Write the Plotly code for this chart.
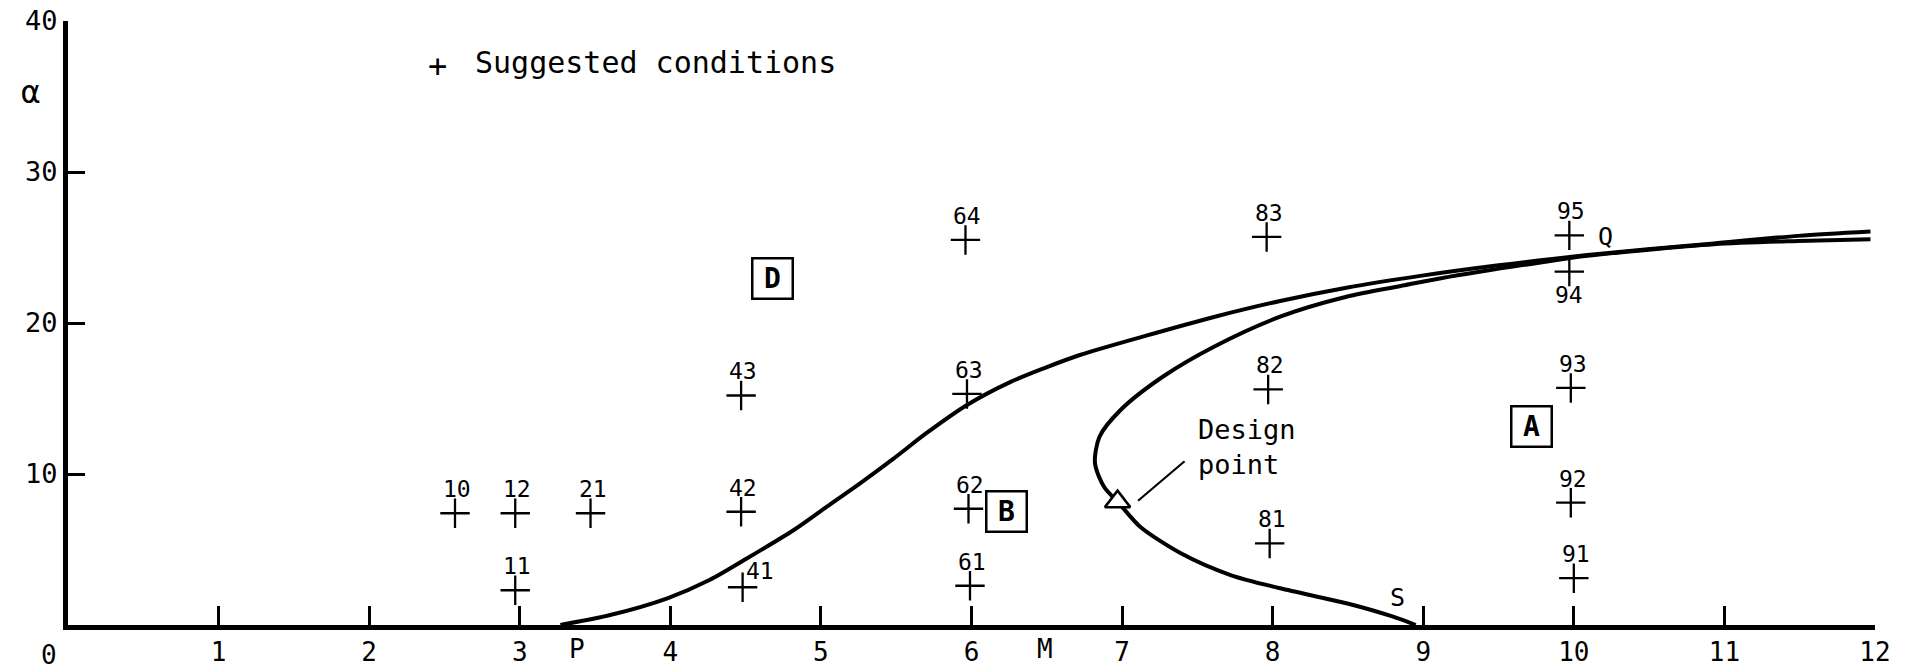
import plotly.graph_objects as go

# Suggested test conditions: run number, M and alpha
run_ids = ["10", "11", "12", "21", "41", "42", "43", "61", "62", "63", "64",
           "81", "82", "83", "91", "92", "93", "94", "95"]
run_m = [2.57, 2.97, 2.97, 3.47, 4.48, 4.47, 4.47, 5.99, 5.98, 5.97, 5.96,
         7.98, 7.97, 7.96, 10.00, 9.98, 9.98, 9.97, 9.97]
run_alpha = [7.4, 2.3, 7.4, 7.4, 2.5, 7.5, 15.2, 2.6, 7.7, 15.3, 25.5,
             5.4, 15.6, 25.7, 3.1, 8.1, 15.7, 23.4, 25.8]

# Boundary from P up to Q
pq_m = [3.27, 3.60, 3.98, 4.26, 4.49, 4.82, 5.04, 5.26, 5.48, 5.70, 5.97,
        6.26, 6.48, 6.72, 7.16, 7.61, 8.05, 8.49, 8.98, 9.50, 10.09, 10.93,
        11.49, 11.97]
pq_alpha = [0.0, 0.66, 1.77, 2.98, 4.30, 6.29, 7.84, 9.38, 11.00, 12.70, 14.57,
            16.10, 17.00, 17.88, 19.16, 20.40, 21.46, 22.34, 23.12, 23.82, 24.50, 25.27,
            25.77, 26.06]

# Boundary from Q round the nose down to S
qs_m = [11.97, 11.49, 10.93, 10.09, 9.81, 9.11, 8.85, 8.49, 8.05, 7.61, 7.27,
        6.99, 6.85, 6.82, 6.88, 6.98, 7.12, 7.39, 7.72, 8.05, 8.49, 8.80, 8.95]
qs_alpha = [25.54, 25.43, 25.22, 24.45, 24.06, 22.95, 22.45, 21.74, 20.42, 18.43, 16.44,
            14.24, 12.47, 10.71, 9.16, 8.06, 6.51, 4.75, 3.31, 2.43, 1.44, 0.55, 0.0]

# Design point
design_m = [6.97]
design_alpha = [8.17]

# Region tags
region_tags = ["D", "B", "A"]
region_m = [4.68, 6.23, 9.72]
region_alpha = [22.96, 7.55, 13.13]

# Named points on the boundaries
point_names = ["Q", "S"]
point_m = [10.21, 8.83]
point_alpha = [25.76, 1.82]

# Axis ticks
x_ticks = list(range(1, 13))
y_ticks = [10, 20, 30, 40]
x_marks = ["P", "M"]
x_mark_pos = [3.38, 6.49]

FONT = "DejaVu Sans Mono"
INK = "black"

fig = go.Figure()

curve_line = dict(color=INK, width=4, shape="spline", smoothing=0.8)
fig.add_trace(go.Scatter(x=pq_m, y=pq_alpha, mode="lines", line=curve_line,
                         hoverinfo="skip"))
fig.add_trace(go.Scatter(x=qs_m, y=qs_alpha, mode="lines", line=curve_line,
                         hoverinfo="skip"))
fig.add_trace(go.Scatter(x=run_m, y=run_alpha, mode="markers",
                         marker=dict(symbol="cross-thin", size=21,
                                     line=dict(color=INK, width=2.3)),
                         text=run_ids, name="Suggested conditions"))
fig.add_trace(go.Scatter(x=design_m, y=design_alpha, mode="markers",
                         marker=dict(symbol="triangle-up", size=22, color="white",
                                     line=dict(color=INK, width=2.5)),
                         name="Design point"))

annotations = []

# run numbers: above the cross, with a couple of exceptions
label_shift = {"94": (0, -23), "41": (17, 16)}
for rid, m, a in zip(run_ids, run_m, run_alpha):
    dx, dy = label_shift.get(rid, (2, 24))
    annotations.append(dict(x=m, y=a, text=rid, showarrow=False,
                            xshift=dx, yshift=dy,
                            font=dict(family=FONT, size=23, color=INK)))

for tag, m, a in zip(region_tags, region_m, region_alpha):
    annotations.append(dict(x=m, y=a, text=f"<b>{tag}</b>", showarrow=False,
                            width=30, height=30, borderpad=4,
                            bordercolor=INK, borderwidth=2.5,
                            font=dict(family=FONT, size=28, color=INK)))

for name, m, a in zip(point_names, point_m, point_alpha):
    annotations.append(dict(x=m, y=a, text=name, showarrow=False,
                            font=dict(family=FONT, size=25, color=INK)))

# letters under the M axis that mark P and M
for name, m in zip(x_marks, x_mark_pos):
    annotations.append(dict(x=m, xref="x", y=-0.0397, yref="paper",
                            xanchor="center", yanchor="middle",
                            text=name, showarrow=False,
                            font=dict(family=FONT, size=26, color=INK)))

# Design point caption and its leader line
annotations.append(dict(x=7.49, y=11.8, text="Design<br>point", showarrow=False,
                        xanchor="left", align="left",
                        font=dict(family=FONT, size=27, color=INK)))
annotations.append(dict(x=7.106, y=8.23, ax=7.425, ay=10.93,
                        xref="x", yref="y", axref="x", ayref="y",
                        text="", showarrow=True, arrowhead=0,
                        arrowwidth=2.2, arrowcolor=INK))

# key
annotations.append(dict(x=2.451, y=37.0, text="+", showarrow=False,
                        font=dict(family=FONT, size=32, color=INK)))
annotations.append(dict(x=2.69, y=37.25, text="Suggested conditions", showarrow=False,
                        xanchor="left",
                        font=dict(family=FONT, size=30, color=INK)))

# origin and axis symbol
annotations.append(dict(x=-0.0105, xref="paper", y=-0.0497, yref="paper",
                        xanchor="center", yanchor="middle",
                        text="0", showarrow=False,
                        font=dict(family=FONT, size=26, color=INK)))
annotations.append(dict(x=-0.0205, xref="paper", y=0.8825, yref="paper",
                        xanchor="center", yanchor="middle",
                        text="α", showarrow=False,
                        font=dict(family=FONT, size=32, color=INK)))

fig.update_layout(
    width=1912, height=671,
    margin=dict(l=68, r=37, t=21, b=46),
    paper_bgcolor="white", plot_bgcolor="white",
    showlegend=False,
    font=dict(family=FONT, color=INK, size=26),
    annotations=annotations,
    xaxis=dict(range=[0, 12], showgrid=False, zeroline=False, automargin=False,
               showline=True, linewidth=5, linecolor=INK,
               ticks="inside", ticklen=19, tickwidth=2.5, tickcolor=INK,
               tickvals=x_ticks, ticktext=[str(v) for v in x_ticks],
               tickfont=dict(family=FONT, size=26, color=INK)),
    yaxis=dict(range=[0, 40], showgrid=False, zeroline=False, automargin=False,
               showline=True, linewidth=5, linecolor=INK,
               ticks="inside", ticklen=17, tickwidth=2.5, tickcolor=INK,
               tickvals=y_ticks, ticktext=[str(v) for v in y_ticks],
               tickfont=dict(family=FONT, size=27, color=INK)),
)

fig.write_html("out.html")
